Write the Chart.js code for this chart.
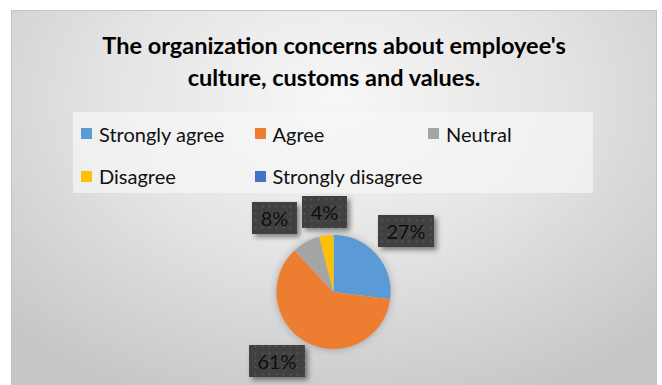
<!DOCTYPE html>
<html>
<head>
<meta charset="utf-8">
<script src="https://cdn.jsdelivr.net/npm/chart.js@4.4.0/dist/chart.umd.min.js"></script>
<style>
  html, body { margin: 0; padding: 0; background: #fff; overflow: hidden; width: 662px; height: 385px; }
  #frame {
    position: absolute; left: 11px; top: 10px; width: 646px; height: 400px;
    box-sizing: border-box; border: 1px solid #c4c4c4;
    background: radial-gradient(ellipse 72% 82% at 50% 22%, #f7f7f7 0%, #e4e4e4 48%, #c6c6c6 100%);
  }
  #title {
    position: absolute; left: 0; top: 29px; width: 668px; text-align: center;
    font: bold 23.5px Lato, sans-serif; line-height: 32px; color: #000;
  }
  #legend {
    position: absolute; left: 73px; top: 112px; width: 520px; height: 81px;
    background: rgba(246, 246, 246, 0.7);
  }
  .item { position: absolute; height: 22px; font: 20px Lato, sans-serif; line-height: 22px; color: #111; white-space: nowrap; }
  .item i { position: absolute; left: 0; top: 5.5px; width: 11px; height: 11px; }
  .item span { position: absolute; left: 18px; top: 0; }
  canvas { position: absolute; left: 0; top: 0; }
</style>
</head>
<body>
<div id="frame"></div>
<div id="title">The organization concerns about employee's<br>culture, customs and values.</div>
<div id="legend"></div>
<canvas id="pie" width="662" height="385"></canvas>
<script>
const answers = ['Strongly agree', 'Agree', 'Neutral', 'Disagree', 'Strongly disagree'];
const shares = [27, 61, 8, 4, 0];
const sliceColors = ['#5b9bd5', '#ed7d31', '#a5a5a5', '#ffc000', '#4472c4'];

// nudges for the callout boxes, in px, on top of the radial placement
const labelNudge = [[7, -3.5], [-17.5, -8.5], [-17.5, 2], [1.5, 6]];

// legend: 3 columns, 2 rows
const legend = document.getElementById('legend');
answers.forEach((name, i) => {
    const col = i % 3, row = Math.floor(i / 3);
    const el = document.createElement('div');
    el.className = 'item';
    el.style.left = (8 + col * 173.5) + 'px';
    el.style.top = (10.5 + row * 42.5) + 'px';
    el.innerHTML = `<i style="background:${sliceColors[i]}"></i><span>${name}</span>`;
    legend.appendChild(el);
});

// dark dotted fill for the value boxes
const tile = document.createElement('canvas');
tile.width = 7; tile.height = 7;
const tctx = tile.getContext('2d');
tctx.fillStyle = '#404040';
tctx.fillRect(0, 0, 7, 7);
tctx.fillStyle = 'rgba(120,120,120,0.45)';
tctx.beginPath();
tctx.arc(3.5, 3.5, 1.1, 0, Math.PI * 2);
tctx.fill();

const pieExtras = {
    id: 'pieExtras',
    beforeDatasetsDraw(chart) {
        const arc = chart.getDatasetMeta(0).data[0];
        const ctx = chart.ctx;
        ctx.save();
        ctx.shadowColor = 'rgba(0,0,0,0.28)';
        ctx.shadowBlur = 9;
        ctx.fillStyle = '#d0d0d0';
        ctx.beginPath();
        ctx.arc(arc.x, arc.y, arc.outerRadius - 0.5, 0, Math.PI * 2);
        ctx.fill();
        ctx.restore();
    },
    afterDatasetsDraw(chart) {
        const ctx = chart.ctx;
        const pattern = ctx.createPattern(tile, 'repeat');
        chart.getDatasetMeta(0).data.forEach((arc, i) => {
            if (!shares[i]) return;
            const mid = (arc.startAngle + arc.endAngle) / 2;
            const dist = arc.outerRadius + 30;
            const cx = arc.x + Math.cos(mid) * dist + labelNudge[i][0];
            const cy = arc.y + Math.sin(mid) * dist + labelNudge[i][1];
            const text = shares[i] + '%';
            ctx.save();
            ctx.font = '20px Lato, sans-serif';
            const w = Math.round(ctx.measureText(text).width + 17);
            const h = 32;
            const x0 = Math.round(cx - w / 2), y0 = Math.round(cy - h / 2);
            ctx.shadowColor = 'rgba(0,0,0,0.45)';
            ctx.shadowBlur = 5;
            ctx.shadowOffsetX = 3;
            ctx.shadowOffsetY = 3;
            ctx.fillStyle = '#404040';
            ctx.fillRect(x0, y0, w, h);
            ctx.shadowColor = 'transparent';
            ctx.fillStyle = pattern;
            ctx.fillRect(x0, y0, w, h);
            ctx.fillStyle = '#0d0d0d';
            ctx.textAlign = 'center';
            ctx.textBaseline = 'alphabetic';
            ctx.fillText(text, x0 + w / 2, y0 + h / 2 + 8);
            ctx.restore();
        });
    }
};

new Chart(document.getElementById('pie'), {
    type: 'pie',
    data: {
        labels: answers,
        datasets: [{
            data: shares,
            backgroundColor: sliceColors,
            borderWidth: 0
        }]
    },
    options: {
        responsive: false,
        animation: false,
        layout: {
            padding: { top: 235, bottom: 36, left: 276, right: 271 }
        },
        plugins: {
            legend: { display: false },
            tooltip: { enabled: false }
        }
    },
    plugins: [pieExtras]
});
</script>
</body>
</html>
